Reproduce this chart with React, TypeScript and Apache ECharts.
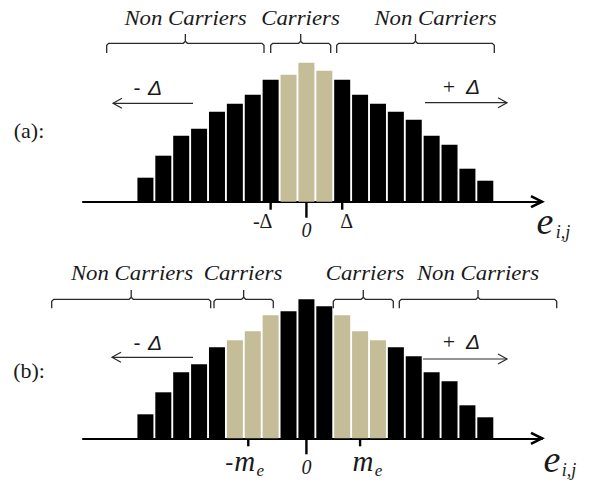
import React, { useEffect, useRef } from "react";
import * as echarts from "echarts";

// Bin positions along the e(i,j) axis (bar index)
const binPositions = [1, 2, 3, 4, 5, 6, 7, 8, 9, 10, 11, 12, 13, 14, 15, 16, 17, 18, 19, 20];
// Histogram heights, panel (a)
const heightsA = [24, 46, 66, 73, 90, 98, 107, 122, 127, 139, 131, 122, 107, 98, 90, 82, 66, 57, 33, 21];
// Histogram heights, panel (b)
const heightsB = [24, 46, 66, 74, 91, 98, 107, 123, 127, 139, 132, 123, 107, 98, 91, 82, 66, 57, 33, 21];
// Carrier bins (tan)
const carriersA = [9, 10, 11];
const carriersB = [6, 7, 8, 12, 13, 14];
// Axis tick positions and labels
const tickPosA = [8, 10, 12];
const tickLabelA = ["-Δ", "0", "Δ"];
const tickPosB = [6.75, 10, 13];
const tickLabelB = ["-m", "0", "m"];

const BLACK = "#000000";
const TAN = "#C4BD97";
const LINE = "#2a2a2a";
const SERIF = "'Liberation Serif', 'Times New Roman', serif";
const SANS = "'Liberation Sans', Arial, sans-serif";

function makeData(heights: number[], carriers: number[]) {
  return binPositions.map((p, i) => ({
    value: [p, heights[i]],
    itemStyle: { color: carriers.includes(p) ? TAN : BLACK },
  }));
}

function brace(x1: number, x2: number, yt: number, yb: number, ytip: number) {
  const xm = (x1 + x2) / 2;
  const style = { stroke: LINE, lineWidth: 1.3, fill: null as any };
  return [
    {
      type: "polyline",
      shape: { points: [[x1, yb], [x1, yt + 2], [x1 + 2, yt], [xm - 2, yt], [xm, yt - 2], [xm, ytip]] },
      style,
    },
    {
      type: "polyline",
      shape: { points: [[xm, yt - 2], [xm + 2, yt], [x2 - 2, yt], [x2, yt + 2], [x2, yb]] },
      style,
    },
  ];
}

function label(text: string, x: number, y: number, size: number, opts: any = {}) {
  return {
    type: "text",
    x,
    y,
    scaleX: opts.scaleX ?? 1,
    style: {
      text,
      fill: opts.color ?? "#1a1a1a",
      font: `${opts.italic ? "italic " : ""}${opts.bold ? "bold " : ""}${size}px ${opts.family ?? SERIF}`,
      align: opts.align ?? "center",
      verticalAlign: "middle",
    },
  };
}

function arrow(x1: number, x2: number, y: number) {
  const d = x2 > x1 ? -1 : 1;
  return [
    { type: "line", shape: { x1, y1: y, x2, y2: y }, style: { stroke: LINE, lineWidth: 1.2 } },
    {
      type: "polyline",
      shape: { points: [[x2 + d * 9, y - 5], [x2, y], [x2 + d * 9, y + 5]] },
      style: { stroke: LINE, lineWidth: 1.2, fill: null as any },
    },
  ];
}

export default function App() {
  const ref = useRef<HTMLDivElement>(null);
  useEffect(() => {
    if (!ref.current) return;
    const chart = echarts.init(ref.current, null, { renderer: "svg" });
    const xAxisBase = {
      type: "value",
      min: -2.49,
      max: 23.17,
      axisLine: { show: true, lineStyle: { color: BLACK, width: 2.2 } },
      axisTick: { show: false },
      axisLabel: { show: false },
      splitLine: { show: false },
    };
    const yAxisBase = {
      type: "value",
      min: 0,
      max: 140,
      show: false,
      splitLine: { show: false },
    };
    chart.setOption({
      animation: false,
      grid: [
        { left: 83, right: 50, top: 61.7, height: 140 },
        { left: 83, right: 50, top: 298.3, height: 140 },
      ],
      xAxis: [
        { ...xAxisBase, gridIndex: 0 },
        { ...xAxisBase, gridIndex: 1 },
      ],
      yAxis: [
        { ...yAxisBase, gridIndex: 0 },
        { ...yAxisBase, gridIndex: 1 },
      ],
      series: [
        { type: "bar", xAxisIndex: 0, yAxisIndex: 0, barWidth: 16, data: makeData(heightsA, carriersA) },
        { type: "bar", xAxisIndex: 1, yAxisIndex: 1, barWidth: 16, data: makeData(heightsB, carriersB) },
      ],
    });

    const px = (axis: number, v: number) => chart.convertToPixel({ xAxisIndex: axis }, v) as number;
    const base0 = chart.convertToPixel({ yAxisIndex: 0 }, 0) as number;
    const base1 = chart.convertToPixel({ yAxisIndex: 1 }, 0) as number;
    const axisEnd0 = px(0, 23.17);
    const axisEnd1 = px(1, 23.17);

    const g: any[] = [];
    g.push({
      type: "polyline",
      shape: { points: [[axisEnd0 - 11, base0 - 5.5], [axisEnd0, base0], [axisEnd0 - 11, base0 + 5.5]] },
      style: { stroke: BLACK, lineWidth: 2.6, fill: null },
    });
    g.push({
      type: "polyline",
      shape: { points: [[axisEnd1 - 11, base1 - 5.5], [axisEnd1, base1], [axisEnd1 - 11, base1 + 5.5]] },
      style: { stroke: BLACK, lineWidth: 2.6, fill: null },
    });

    // ticks panel (a)
    tickPosA.forEach((p, i) => {
      const x = px(0, p);
      const len = tickLabelA[i] === "0" ? 16 : 8;
      g.push({ type: "line", shape: { x1: x, y1: base0, x2: x, y2: base0 + len }, style: { stroke: BLACK, lineWidth: 2.4 } });
      if (tickLabelA[i] === "0") g.push(label("0", x, base0 + 28.5, 20, { italic: true }));
      else if (i === 0) g.push(label(tickLabelA[i], x - 8, base0 + 19.5, 20));
      else g.push(label(tickLabelA[i], x + 4.5, base0 + 19.5, 20));
    });
    // ticks panel (b)
    tickPosB.forEach((p, i) => {
      const x = px(1, p);
      const len = tickLabelB[i] === "0" ? 16 : 8;
      g.push({ type: "line", shape: { x1: x, y1: base1, x2: x, y2: base1 + len }, style: { stroke: BLACK, lineWidth: 2.4 } });
      if (tickLabelB[i] === "0") g.push(label("0", x, base1 + 28.5, 20, { italic: true }));
      else if (i === 0) {
        g.push(label("-", x - 19, base1 + 24, 24));
        g.push(label("m", x - 3.5, base1 + 23, 29, { italic: true }));
        g.push(label("e", x + 12, base1 + 32, 17, { italic: true }));
      } else {
        g.push(label("m", x + 3, base1 + 23, 29, { italic: true }));
        g.push(label("e", x + 18.5, base1 + 32, 17, { italic: true }));
      }
    });

    // e_{i,j} axis titles
    g.push(label("e", 545, 221, 38, { italic: true }));
    g.push(label("i,j", 563, 232, 18, { italic: true }));
    g.push(label("e", 552, 459, 38, { italic: true }));
    g.push(label("i,j", 569, 470, 18, { italic: true }));

    // panel labels
    g.push(label("(a):", 29, 130, 22));
    g.push(label("(b):", 29, 370, 22));

    // braces panel (a)
    g.push(...brace(106.7, 264, 43.3, 53, 34));
    g.push(...brace(270.7, 330.7, 43.3, 53, 34));
    g.push(...brace(336.7, 494.3, 43.3, 53, 34));
    g.push(label("Non Carriers", 185.5, 18, 20, { italic: true, scaleX: 1.14 }));
    g.push(label("Carriers", 300.5, 18, 20, { italic: true, scaleX: 1.14 }));
    g.push(label("Non Carriers", 435.5, 18, 20, { italic: true, scaleX: 1.14 }));
    // braces panel (b)
    g.push(...brace(51.7, 210.7, 299.3, 308.3, 290));
    g.push(...brace(214, 273.3, 299.3, 308.3, 290));
    g.push(...brace(333.3, 393.3, 299.3, 308.3, 290));
    g.push(...brace(399.3, 556.7, 299.3, 308.3, 290));
    g.push(label("Non Carriers", 132, 273, 20, { italic: true, scaleX: 1.14 }));
    g.push(label("Carriers", 243, 273, 20, { italic: true, scaleX: 1.14 }));
    g.push(label("Carriers", 365, 273, 20, { italic: true, scaleX: 1.14 }));
    g.push(label("Non Carriers", 478, 273, 20, { italic: true, scaleX: 1.14 }));

    // shift arrows panel (a)
    g.push(label("-", 137, 87.5, 21, { family: SANS }));
    g.push(label("Δ", 155, 87.5, 21, { family: SANS, italic: true }));
    g.push(...arrow(193, 113, 103.3));
    g.push(label("+", 449, 86, 22));
    g.push(label("Δ", 473, 86, 21, { family: SANS, italic: true }));
    g.push(...arrow(425, 507, 102.7));
    // shift arrows panel (b)
    g.push(label("-", 137, 342.5, 21, { family: SANS }));
    g.push(label("Δ", 155, 342.5, 21, { family: SANS, italic: true }));
    g.push(...arrow(193, 112, 357.3));
    g.push(label("+", 449, 341, 22));
    g.push(label("Δ", 473, 341, 21, { family: SANS, italic: true }));
    g.push(...arrow(423, 507, 359));

    chart.setOption({ graphic: g });
    return () => chart.dispose();
  }, []);
  return (
    <div
      ref={ref}
      style={{ position: "fixed", left: 0, top: 0, width: 592, height: 483, background: "#fff" }}
    />
  );
}
